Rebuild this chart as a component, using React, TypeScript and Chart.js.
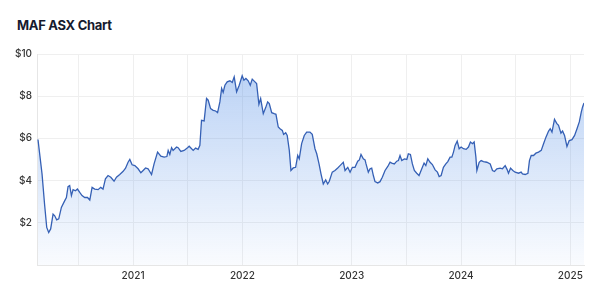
import React, { useEffect, useRef } from "react";
import { Chart, registerables } from "chart.js";

Chart.register(...registerables);

const titleText = "MAF ASX Chart";

// Dates as decimal years
const dates: number[] = [
  2020.13, 2020.167, 2020.19, 2020.21, 2020.228, 2020.246, 2020.268, 2020.283, 2020.301, 2020.32,
  2020.344, 2020.375, 2020.39, 2020.405, 2020.42, 2020.436, 2020.451, 2020.473, 2020.491, 2020.512,
  2020.533, 2020.558, 2020.583, 2020.604, 2020.625, 2020.649, 2020.68, 2020.704, 2020.725, 2020.747,
  2020.771, 2020.796, 2020.826, 2020.848, 2020.878, 2020.909, 2020.931, 2020.954, 2020.97, 2020.991,
  2021.016, 2021.046, 2021.071, 2021.092, 2021.114, 2021.137, 2021.169, 2021.192, 2021.224, 2021.254,
  2021.284, 2021.309, 2021.321, 2021.336, 2021.352, 2021.366, 2021.398, 2021.412, 2021.437, 2021.467,
  2021.498, 2021.513, 2021.55, 2021.572, 2021.595, 2021.611, 2021.626, 2021.65, 2021.672, 2021.687,
  2021.709, 2021.733, 2021.755, 2021.773, 2021.794, 2021.81, 2021.824, 2021.84, 2021.861, 2021.886,
  2021.907, 2021.925, 2021.947, 2021.971, 2021.998, 2022.014, 2022.032, 2022.053, 2022.072, 2022.09,
  2022.115, 2022.13, 2022.151, 2022.167, 2022.191, 2022.213, 2022.231, 2022.246, 2022.268, 2022.291,
  2022.307, 2022.328, 2022.344, 2022.365, 2022.377, 2022.396, 2022.41, 2022.429, 2022.444, 2022.465,
  2022.487, 2022.506, 2022.52, 2022.542, 2022.566, 2022.588, 2022.618, 2022.639, 2022.664, 2022.68,
  2022.701, 2022.719, 2022.74, 2022.762, 2022.78, 2022.795, 2022.822, 2022.847, 2022.872, 2022.893,
  2022.923, 2022.939, 2022.964, 2022.985, 2023.006, 2023.03, 2023.055, 2023.07, 2023.085, 2023.106,
  2023.122, 2023.131, 2023.152, 2023.168, 2023.183, 2023.198, 2023.213, 2023.238, 2023.259, 2023.28,
  2023.305, 2023.33, 2023.351, 2023.366, 2023.39, 2023.412, 2023.427, 2023.442, 2023.458, 2023.482,
  2023.504, 2023.518, 2023.537, 2023.555, 2023.573, 2023.595, 2023.616, 2023.641, 2023.662, 2023.678,
  2023.696, 2023.717, 2023.738, 2023.763, 2023.784, 2023.8, 2023.818, 2023.839, 2023.861, 2023.879,
  2023.9, 2023.916, 2023.931, 2023.946, 2023.965, 2023.983, 2024.001, 2024.022, 2024.047, 2024.068,
  2024.086, 2024.105, 2024.12, 2024.136, 2024.145, 2024.166, 2024.184, 2024.205, 2024.236, 2024.267,
  2024.288, 2024.306, 2024.328, 2024.358, 2024.379, 2024.404, 2024.422, 2024.434, 2024.453, 2024.474,
  2024.495, 2024.526, 2024.55, 2024.562, 2024.587, 2024.612, 2024.626, 2024.642, 2024.663, 2024.685,
  2024.709, 2024.734, 2024.755, 2024.777, 2024.801, 2024.816, 2024.832, 2024.855, 2024.877, 2024.892,
  2024.914, 2024.929, 2024.947, 2024.969, 2024.99, 2025.015, 2025.039, 2025.061, 2025.082, 2025.1,
  2025.112, 2025.125,
];

// Share price in AUD
const prices: number[] = [
  5.95, 4.32, 2.89, 1.78, 1.54, 1.71, 2.41, 2.33, 2.14, 2.19,
  2.73, 3.05, 3.2, 3.71, 3.76, 3.29, 3.57, 3.52, 3.6, 3.44,
  3.29, 3.2, 3.2, 3.08, 3.68, 3.6, 3.57, 3.68, 3.6, 4.08,
  4.24, 4.16, 3.97, 4.16, 4.29, 4.44, 4.59, 4.87, 5.0, 4.75,
  4.71, 4.56, 4.37, 4.48, 4.6, 4.56, 4.29, 4.79, 5.35, 5.16,
  5.11, 5.14, 5.43, 5.24, 5.56, 5.43, 5.59, 5.56, 5.38, 5.43,
  5.56, 5.63, 5.43, 5.54, 5.48, 5.67, 6.86, 6.83, 7.89, 7.81,
  7.41, 7.33, 7.3, 7.22, 7.73, 8.37, 8.18, 8.52, 8.68, 8.73,
  8.65, 8.92, 8.21, 8.52, 8.97, 8.76, 8.84, 8.73, 8.52, 8.81,
  8.68, 8.6, 7.62, 7.89, 7.17, 7.46, 7.73, 7.65, 7.22, 7.17,
  7.14, 6.54, 6.46, 6.38, 6.19, 6.27, 6.14, 5.43, 4.48, 4.6,
  4.63, 5.19, 5.03, 5.75, 6.14, 6.3, 6.3, 6.19, 5.51, 5.27,
  4.79, 4.32, 3.84, 4.03, 3.84, 3.97, 4.4, 4.48, 4.6, 4.71,
  4.87, 4.48, 4.63, 4.4, 4.63, 4.63, 4.92, 4.98, 5.24, 5.03,
  4.98, 4.79, 4.4, 4.56, 4.59, 4.24, 3.95, 3.89, 3.95, 4.16,
  4.48, 4.67, 4.87, 4.83, 4.79, 4.92, 4.95, 5.19, 4.95, 5.03,
  5.0, 5.27, 5.24, 4.79, 4.48, 4.35, 4.24, 4.56, 4.83, 4.71,
  5.03, 4.87, 4.76, 4.51, 4.4, 4.19, 4.24, 4.63, 4.79, 4.9,
  5.11, 5.11, 5.35, 5.67, 5.87, 5.51, 5.59, 5.51, 5.48, 5.59,
  5.83, 5.75, 5.83, 5.11, 4.48, 4.87, 4.95, 4.9, 4.87, 4.79,
  4.48, 4.43, 4.56, 4.59, 4.56, 4.71, 4.52, 4.35, 4.59, 4.48,
  4.4, 4.35, 4.4, 4.32, 4.29, 4.35, 4.95, 5.19, 5.19, 5.3,
  5.35, 5.43, 5.75, 6.06, 6.35, 6.46, 6.3, 6.9, 6.7, 6.62,
  6.25, 6.35, 6.14, 5.62, 5.9, 5.94, 6.14, 6.46, 6.78, 7.25,
  7.49, 7.68,
];

// x grid positions (year starts are labelled, mid-years only gridlines)
const xGridYears: number[] = [2020.5, 2021, 2021.5, 2022, 2022.5, 2023, 2023.5, 2024, 2024.5, 2025];
const xLabelYears: number[] = [2021, 2022, 2023, 2024, 2025];
const yTickValues: number[] = [0, 2, 4, 6, 8, 10];

const X_MIN = 2020.121;
const X_MAX = 2025.125;

export default function App() {
  const canvasRef = useRef<HTMLCanvasElement | null>(null);

  useEffect(() => {
    const canvas = canvasRef.current;
    if (!canvas) return;
    const points = dates.map((d, i) => ({ x: d, y: prices[i] }));
    const chart = new Chart(canvas, {
      type: "line",
      data: {
        datasets: [
          {
            data: points,
            borderColor: "#3560b5",
            borderWidth: 1.3,
            pointRadius: 0,
            tension: 0,
            fill: "start",
            backgroundColor: (ctx: any) => {
              const ch = ctx.chart;
              const area = ch.chartArea;
              if (!area) return "rgba(80,140,230,0.3)";
              const g = ch.ctx.createLinearGradient(0, area.top, 0, area.bottom);
              g.addColorStop(0, "rgba(80,140,230,0.42)");
              g.addColorStop(1, "rgba(80,140,230,0.03)");
              return g;
            },
          },
        ],
      },
      options: {
        animation: false,
        responsive: false,
        maintainAspectRatio: false,
        layout: { padding: { top: 54, right: 16, left: 0, bottom: 0 } },
        plugins: {
          legend: { display: false },
          title: { display: false },
          tooltip: { enabled: false },
        },
        scales: {
          x: {
            type: "linear",
            min: X_MIN,
            max: X_MAX,
            afterBuildTicks: (scale: any) => {
              scale.ticks = xGridYears.map((v) => ({ value: v }));
            },
            afterFit: (scale: any) => {
              scale.height = 35;
            },
            grid: { color: "#efefef", drawTicks: false, lineWidth: 1 },
            border: { color: "#e6e6e6" },
            ticks: {
              padding: 5,
              autoSkip: false,
              maxRotation: 0,
              color: "#333333",
              font: { family: "Inter", size: 10, weight: "500" },
              callback: (v: any) => (xLabelYears.includes(Number(v)) ? String(v) : ""),
            },
          },
          y: {
            min: 0,
            max: 10,
            afterBuildTicks: (scale: any) => {
              scale.ticks = yTickValues.map((v) => ({ value: v }));
            },
            afterFit: (scale: any) => {
              scale.width = 37;
            },
            grid: { color: "#efefef", drawTicks: false, lineWidth: 1 },
            border: { color: "#e6e6e6" },
            ticks: {
              padding: 5,
              color: "#333333",
              font: { family: "Inter", size: 10, weight: "500" },
              callback: (v: any) => (Number(v) === 0 ? "" : "$" + v),
            },
          },
        },
      },
    });
    return () => chart.destroy();
  }, []);

  return (
    <div style={{ position: "fixed", left: 0, top: 0, width: 600, height: 300, background: "#fff" }}>
      <div
        style={{
          position: "absolute",
          left: 17,
          top: 17,
          fontFamily: "Inter",
          fontWeight: 700,
          fontSize: 13,
          letterSpacing: "-0.3px",
          lineHeight: "16px",
          color: "#161b2e",
        }}
      >
        {titleText}
      </div>
      <canvas ref={canvasRef} width={600} height={300} style={{ position: "absolute", left: 0, top: 0, width: 600, height: 300 }} />
    </div>
  );
}
